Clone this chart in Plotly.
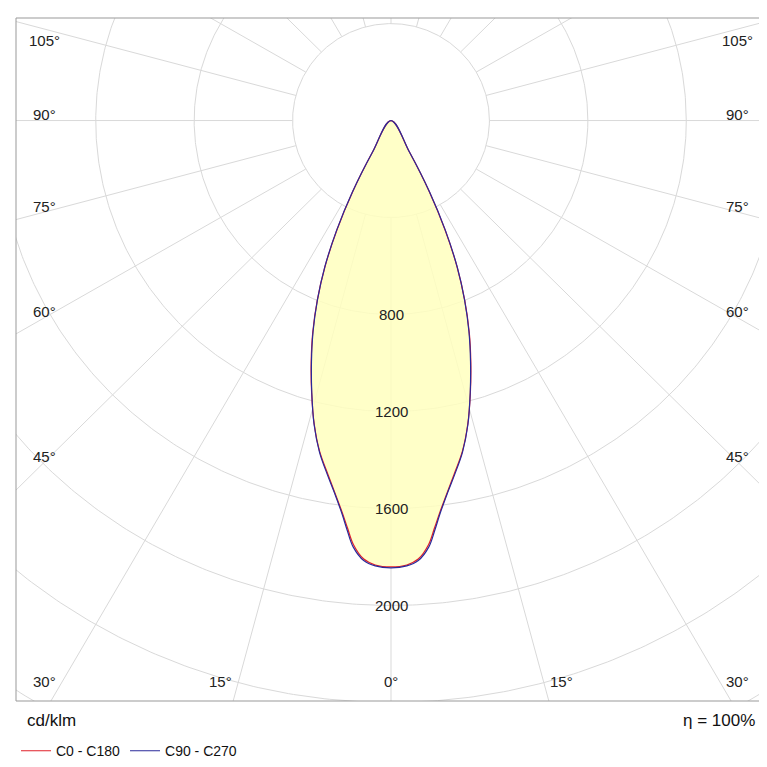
import numpy as np
import plotly.graph_objects as go

angles = [0, 2, 3.5, 5, 6, 7, 8.5, 10, 12, 14, 16, 18, 20, 22, 24, 26, 28, 30, 32]
c0_c180 = [1841, 1834, 1812, 1755, 1690, 1628, 1550, 1480, 1395, 1290, 1170, 1050, 930, 800, 660, 500, 330, 150, 0]
c90_c270 = [1845, 1838, 1818, 1765, 1700, 1634, 1553, 1485, 1398, 1292, 1168, 1046, 926, 798, 662, 505, 335, 152, 0]
ring_values = [400, 800, 1200, 1600, 2000, 2400, 2800, 3200]
ring_labels = [800, 1200, 1600, 2000]
spoke_angles = list(range(0, 360, 15))
side_labels = [105, 90, 75, 60, 45]
bottom_labels = [30, 15, 0]

XR = [-1524, 1524]
YR = [-2394, 423]

def outline(a, r):
    a = np.array(a, float); r = np.array(r, float)
    aa = np.concatenate([-a[::-1], a[1:]])
    rr = np.concatenate([r[::-1], r[1:]])
    t = np.radians(aa)
    return rr * np.sin(t), -rr * np.cos(t)

fig = go.Figure()
grid = "#d9d9d9"
t = np.linspace(0, 2*np.pi, 721)
for rv in ring_values:
    fig.add_trace(go.Scatter(x=rv*np.cos(t), y=rv*np.sin(t), mode="lines",
                             line=dict(color=grid, width=1), hoverinfo="skip", showlegend=False))
for a in spoke_angles:
    th = np.radians(a)
    fig.add_trace(go.Scatter(x=[400*np.sin(th), 4000*np.sin(th)], y=[-400*np.cos(th), -4000*np.cos(th)],
                             mode="lines", line=dict(color=grid, width=1), hoverinfo="skip", showlegend=False))

x0, y0 = outline(angles, c0_c180)
x1, y1 = outline(angles, c90_c270)
fig.add_trace(go.Scatter(x=x0, y=y0, fill="toself", fillcolor="rgba(255,255,190,0.85)",
                         line=dict(width=0, shape="spline"), hoverinfo="skip", showlegend=False))
fig.add_trace(go.Scatter(x=x0, y=y0, mode="lines", line=dict(color="#e0202a", width=1.2, shape="spline"), name="C0 - C180"))
fig.add_trace(go.Scatter(x=x1, y=y1, mode="lines", line=dict(color="#2a2a9a", width=1.2, shape="spline"), name="C90 - C270"))

lab = dict(size=15, color="#222")
for rv in ring_labels:
    fig.add_annotation(x=0, y=-rv, text=str(rv), showarrow=False, font=lab)

xin = 1410
for a in side_labels:
    th = np.radians(a)
    yy = min(-xin / np.tan(th) + 25, 330)
    for s in (-1, 1):
        fig.add_annotation(x=s*xin, y=yy, text=f"{a}°", showarrow=False, font=lab)
ybot = -2313
for a in bottom_labels:
    th = np.radians(a)
    xx = min(-ybot * np.tan(th) * 1.12, xin)
    for s in ((-1, 1) if a else (1,)):
        fig.add_annotation(x=s*xx, y=ybot, text=f"{a}°", showarrow=False, font=lab)

fig.add_annotation(xref="paper", yref="paper", x=0.012, y=-0.012, xanchor="left", yanchor="top",
                   text="cd/klm", showarrow=False, font=dict(size=17, color="#111"))
fig.add_annotation(xref="paper", yref="paper", x=0.988, y=-0.012, xanchor="right", yanchor="top",
                   text="η = 100%", showarrow=False, font=dict(size=17, color="#111"))

fig.update_layout(
    width=767, height=767, margin=dict(l=8, r=9, t=10, b=64),
    paper_bgcolor="white", plot_bgcolor="white",
    font=dict(family="Liberation Sans, Arial, sans-serif"),
    xaxis=dict(range=XR, visible=False, fixedrange=True),
    yaxis=dict(range=YR, visible=False, fixedrange=True),
    legend=dict(orientation="h", x=0.0, y=-0.05, xanchor="left", yanchor="top",
                font=dict(size=14, color="#111"), bgcolor="rgba(0,0,0,0)"),
    shapes=[dict(type="rect", xref="paper", yref="paper", x0=0, y0=0, x1=1, y1=1,
                 line=dict(color="#999", width=1))],
)
fig.write_html("out.html")
